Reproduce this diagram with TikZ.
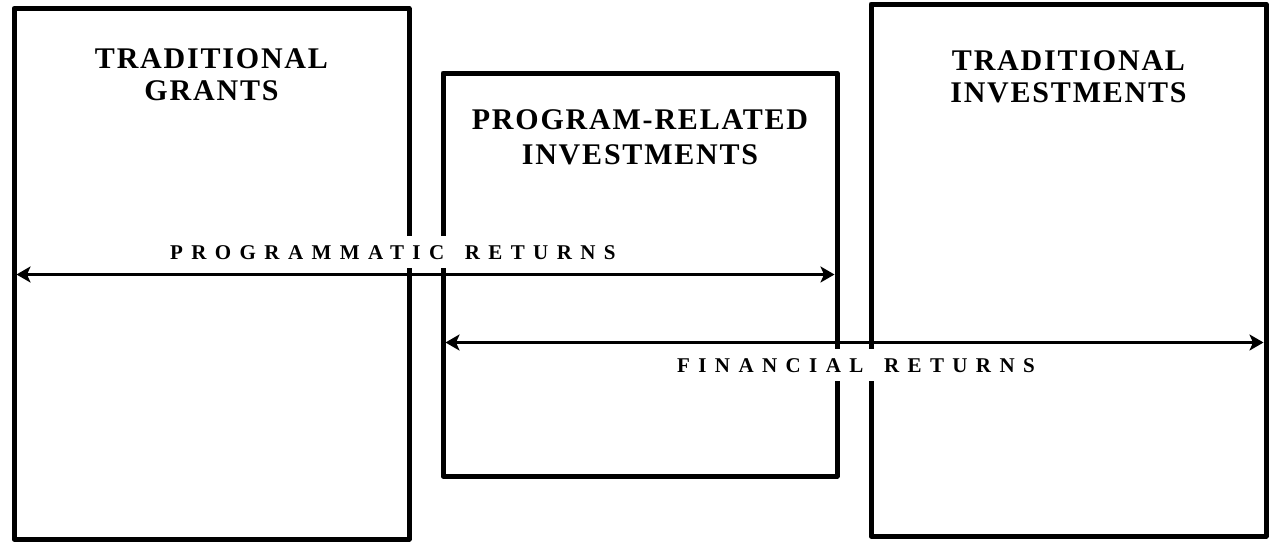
\documentclass[tikz,border=0pt]{standalone}
\usepackage{fontspec}
\setmainfont{Liberation Serif}
\newfontfamily\titlefont[LetterSpace=6]{Liberation Serif}
\newfontfamily\labelfont[LetterSpace=40]{Liberation Serif}
\usetikzlibrary{arrows.meta}
\begin{document}
\begin{tikzpicture}[x=1pt,y=-1pt,
  panel/.style={draw, line width=5pt, line join=round, outer sep=0pt, inner sep=0pt},
  title/.style={align=center, inner sep=0pt, anchor=north, font=\titlefont\bfseries\fontsize{30}{32}\selectfont},
  lbl/.style={fill=white, inner xsep=4pt, inner ysep=9pt, anchor=base west, font=\labelfont\bfseries\fontsize{21}{24}\selectfont},
  arr/.style={{Stealth[length=14pt,width=16pt,inset=3.5pt]}-{Stealth[length=14pt,width=16pt,inset=3.5pt]}, line width=3pt, shorten <=2.5pt, shorten >=2.5pt}]
\useasboundingbox (0,0) rectangle (1274,541);
\fill[white] (0,0) rectangle (1274,541);
% panels
\node[panel, minimum width=395pt, minimum height=530.5pt] (g) at (211.5,273.75) {};
\node[panel, minimum width=394pt, minimum height=403pt] (p) at (640,274.5) {};
\node[panel, minimum width=395pt, minimum height=532pt] (i) at (1068.5,270) {};
% titles
\node[title] (tg) at (211.5,48) {TRADITIONAL\\GRANTS};
\node[title] (tp) at (640,109) {PROGRAM-RELATED\\[3pt]INVESTMENTS};
\node[title] (ti) at (1068.5,50) {TRADITIONAL\\INVESTMENTS};
% arrows
\coordinate (pr) at (0,274.5);
\coordinate (fr) at (0,342.5);
\draw[arr] (g.west |- pr) -- (p.east |- pr);
\draw[arr] (p.west |- fr) -- (i.east |- fr);
% labels
\node[lbl] (lp) at (166,259) {PROGRAMMATIC\hspace{7pt} RETURNS};
\node[lbl] (lf) at (673,372) {FINANCIAL\hspace{7pt} RETURNS};
\end{tikzpicture}
\end{document}
